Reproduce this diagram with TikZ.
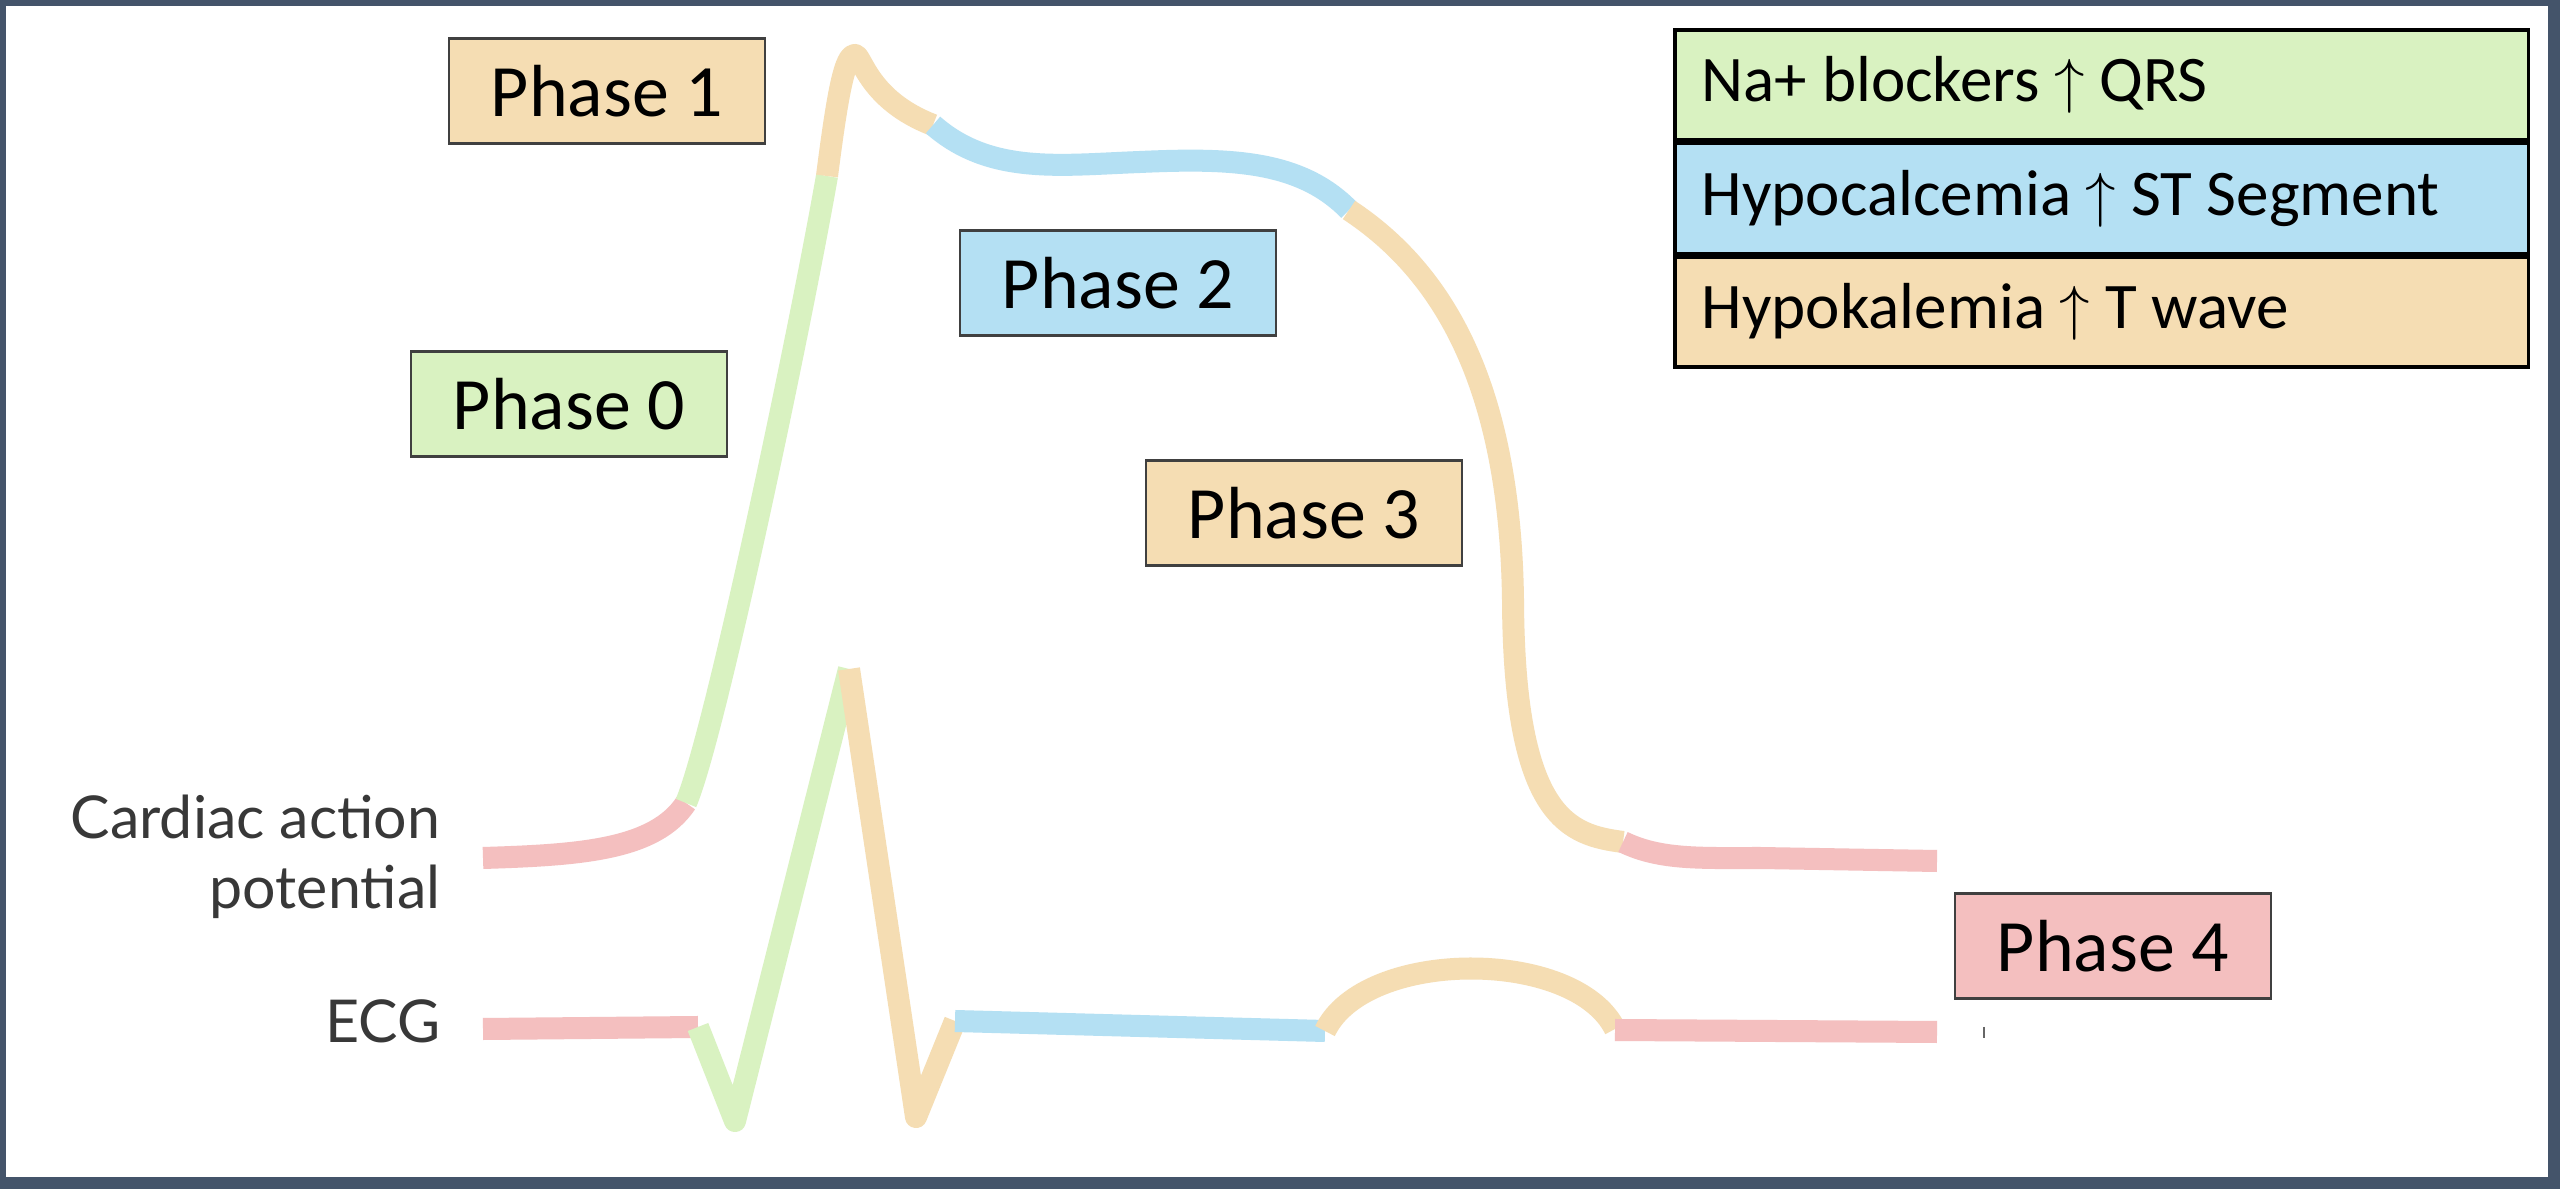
\documentclass[tikz,border=0pt]{standalone}
\usepackage{fontspec}
\setmainfont{Carlito}
\newfontfamily\tracefont{Lato}
\usetikzlibrary{positioning}

\definecolor{framegray}{HTML}{44546A}
\definecolor{phpink}{HTML}{F4BFBF}
\definecolor{phgreen}{HTML}{D9F2C1}
\definecolor{phblue}{HTML}{B4E0F3}
\definecolor{phwheat}{HTML}{F5DDB3}

\begin{document}
\begin{tikzpicture}[x=0.01cm, y=-0.01cm,
    phasebox/.style={draw=black!75, line width=0.6pt, minimum width=3.15cm, minimum height=1.05cm,
      font=\fontsize{21}{25}\selectfont},
    legendrow/.style={draw=black, line width=1pt, text width=7.99cm, inner xsep=0.27cm,
      minimum height=1.1cm, align=flush left, font=\fontsize{18.5}{22}\selectfont},
    trace/.style={line width=0.22cm, line join=round},
    tracelabel/.style={inner sep=0pt, text=black!78, align=flush right,
      font=\tracefont\fontsize{16.8}{19.8}\selectfont}]
  \useasboundingbox (0,0) rectangle (2560,1189);
  % Frame
  \fill[framegray] (0,0) rectangle (2560,1189);
  \fill[white] (6,6) rectangle (2548,1177);

  % Action potential
  \draw[trace, phpink] (483,858) .. controls (580,855) and (655,850) .. (686,803);
  \draw[trace, phgreen] (686,803) .. controls (715,735) and (800,330) .. (827,176);
  \draw[trace, phwheat] (827,176) .. controls (838,90) and (845,55) .. (855,55)
    .. controls (862,55) and (868,100) .. (933,125);
  \draw[trace, phblue] (933,125) .. controls (990,175) and (1060,165) .. (1140,162)
    .. controls (1230,158) and (1300,160) .. (1349,210);
  \draw[trace, phwheat] (1349,210) .. controls (1440,270) and (1510,380) .. (1513,600)
    .. controls (1514,820) and (1570,835) .. (1623,842);
  \draw[trace, phpink] (1623,842) .. controls (1660,860) and (1700,858) .. (1760,858) -- (1937,861);

  % ECG
  \draw[trace, phpink] (483,1029) -- (698,1027);
  \draw[trace, phgreen] (698,1027) -- (735,1121) -- (849,669);
  \draw[trace, phwheat] (849,669) -- (916,1117) -- (955,1021);
  \draw[trace, phblue] (955,1021) -- (1325,1031);
  \draw[trace, phwheat] (1325,1031) .. controls (1365,948) and (1575,948) .. (1615,1029);
  \draw[trace, phpink] (1615,1030) -- (1937,1032);
  \draw[black!60, line width=0.4pt] (1984,1027) -- (1984,1038);

  % Labels
  \node[tracelabel, anchor=east] (apLabel) at (441,857) {Cardiac action\\potential};
  \node[tracelabel, anchor=east] (ecgLabel) at (441,1021) {ECG};

  % Phases
  \node[phasebox, fill=phwheat] (phaseOne) at (607,91) {Phase 1};
  \node[phasebox, fill=phgreen] (phaseZero) at (569,404) {Phase 0};
  \node[phasebox, fill=phblue] (phaseTwo) at (1118,283) {Phase 2};
  \node[phasebox, fill=phwheat] (phaseThree) at (1304,513) {Phase 3};
  \node[phasebox, fill=phpink] (phaseFour) at (2113,946) {Phase 4};

  % Legend
  \node[legendrow, fill=phgreen, anchor=north west] (naRow) at (1673,28) {Na+ blockers $\uparrow$ QRS};
  \node[legendrow, fill=phblue, below=0pt of naRow] (caRow) {Hypocalcemia $\uparrow$ ST Segment};
  \node[legendrow, fill=phwheat, below=0pt of caRow] (kRow) {Hypokalemia $\uparrow$ T wave};
\end{tikzpicture}
\end{document}
